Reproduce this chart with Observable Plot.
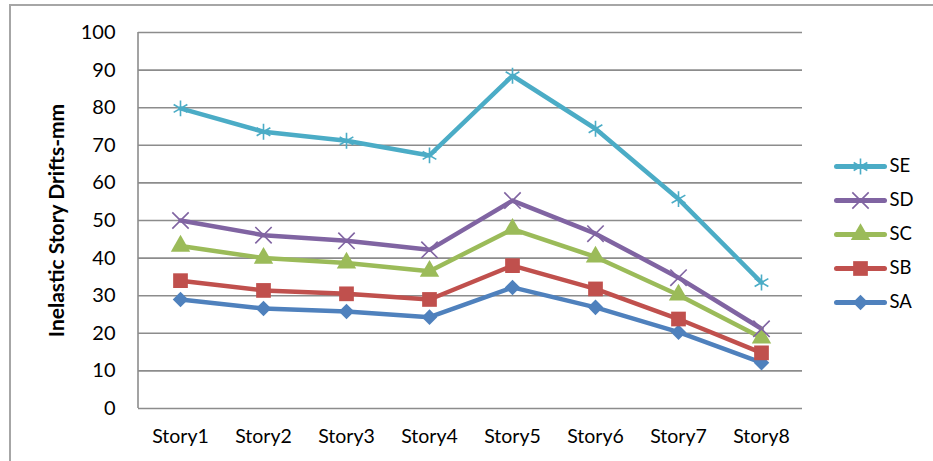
<!DOCTYPE html>
<html>
<head>
<meta charset="utf-8">
<script src="https://cdn.jsdelivr.net/npm/d3@7"></script>
<script src="https://cdn.jsdelivr.net/npm/@observablehq/plot@0.6"></script>
<style>
  html, body { margin: 0; padding: 0; background: #fff; }
  #wrap { position: relative; width: 933px; height: 461px; overflow: hidden; font-family: Lato, "Open Sans", sans-serif; }
  #chart, #legend { position: absolute; }
  #chart { left: 0; top: 0; }
  #legend { left: 820px; top: 120px; }
  #border { position: absolute; left: 9px; top: 4px; right: -4px; bottom: -4px;
            border-top: 2px solid #a6a6a6; border-left: 2px solid #a6a6a6; pointer-events: none; }
</style>
</head>
<body>
<div id="wrap">
  <div id="chart"></div>
  <div id="legend"></div>
  <div id="border"></div>
</div>
<script>
// Stories along the x axis
const stories = ["Story1", "Story2", "Story3", "Story4", "Story5", "Story6", "Story7", "Story8"];

// Inelastic story drifts (mm) for each structure
const SA = [29.0, 26.6, 25.8, 24.3, 32.2, 26.9, 20.3, 12.2];
const SB = [34.0, 31.4, 30.5, 29.0, 38.0, 31.8, 23.8, 14.8];
const SC = [43.2, 40.0, 38.7, 36.5, 47.7, 40.3, 30.2, 18.8];
const SD = [50.0, 46.1, 44.6, 42.2, 55.3, 46.5, 34.8, 21.2];
const SE = [79.8, 73.6, 71.2, 67.3, 88.5, 74.4, 55.7, 33.5];

const seriesNames = ["SA", "SB", "SC", "SD", "SE"];
const seriesValues = [SA, SB, SC, SD, SE];
const seriesColors = ["#4F81BD", "#C0504D", "#9BBB59", "#8064A2", "#4BACC6"];
const seriesSymbols = ["diamond2", "square", "triangle", "times", "asterisk"];

const yTicks = [0, 10, 20, 30, 40, 50, 60, 70, 80, 90, 100];

// Long-form table built from the arrays above
const rows = seriesNames.flatMap((name, i) =>
  stories.map((story, j) => ({ series: name, story, value: seriesValues[i][j] }))
);

const colorScale = { domain: seriesNames, range: seriesColors };
const symbolScale = { domain: seriesNames, range: seriesSymbols };
const font = "Lato, 'Open Sans', sans-serif";

// Marker style per series: filled shapes for SA–SC, stroked crosses for SD–SE
const markerStyle = {
  SA: { fill: true, r: 7.0 },
  SB: { fill: true, r: 8.3 },
  SC: { fill: true, r: 7.2 },
  SD: { fill: false, r: 7.5 },
  SE: { fill: false, r: 7.5 }
};

function markers(data, opts) {
  return seriesNames.map(name => {
    const s = markerStyle[name];
    const subset = data.filter(d => d.series === name);
    return s.fill
      ? Plot.dot(subset, { ...opts, symbol: "series", fill: "series", stroke: "none", r: s.r })
      : Plot.dot(subset, { ...opts, symbol: "series", stroke: "series", fill: "none", strokeWidth: 1.6, r: s.r });
  });
}

const chart = Plot.plot({
  width: 933,
  height: 461,
  marginLeft: 138,
  marginRight: 131,
  marginTop: 32,
  marginBottom: 53,
  style: { fontFamily: font, fontSize: "19px", color: "#000", background: "transparent" },
  x: { type: "point", domain: stories, padding: 0.5, label: null },
  y: { domain: [0, 100], label: null },
  color: colorScale,
  symbol: symbolScale,
  marks: [
    Plot.ruleY(yTicks, { stroke: "#8c8c8c", strokeWidth: 1.6 }),
    Plot.axisY({ ticks: yTicks, tickSize: 0, tickPadding: 23, label: null, fontSize: 20 }),
    Plot.axisX({ tickSize: 0, tickPadding: 21, label: null, fontSize: 19.5 }),
    Plot.text(["Inelastic Story Drifts-mm"], {
      frameAnchor: "left", textAnchor: "middle", dx: -81, rotate: -90,
      fontWeight: "bold", fontSize: 21, fill: "#000"
    }),
    Plot.line(rows, { x: "story", y: "value", z: "series", stroke: "series", strokeWidth: 4.5, strokeLinejoin: "round", strokeLinecap: "round" }),
    ...markers(rows, { x: "story", y: "value" })
  ]
});

document.getElementById("chart").appendChild(chart);

// The plot area's left edge, drawn just after the gridlines
const ys = chart.scale("y");
const firstGroup = chart.querySelector(":scope > g");
const edge = document.createElementNS("http://www.w3.org/2000/svg", "line");
d3.select(edge)
  .attr("x1", 138).attr("x2", 138)
  .attr("y1", ys.apply(100)).attr("y2", ys.apply(0))
  .attr("stroke", "#8c8c8c").attr("stroke-width", 1.6);
if (firstGroup) chart.insertBefore(edge, firstGroup.nextSibling);
else chart.appendChild(edge);

// Legend, top to bottom
const legendOrder = ["SE", "SD", "SC", "SB", "SA"];
const legendRows = legendOrder.map(s => ({ series: s }));

const legend = Plot.plot({
  width: 113,
  height: 220,
  margin: 0,
  style: { fontFamily: font, fontSize: "18px", color: "#000", background: "transparent" },
  x: { domain: [0, 1], range: [16, 64], axis: null },
  y: { type: "point", domain: legendOrder, range: [28, 200], axis: null },
  color: colorScale,
  symbol: symbolScale,
  marks: [
    Plot.link(legendRows, { x1: () => 0, x2: () => 1, y1: "series", y2: "series", stroke: "series", strokeWidth: 5, strokeLinecap: "round" }),
    ...markers(legendRows, { x: () => 0.5, y: "series" }),
    Plot.text(legendRows, { x: () => 1, y: "series", text: "series", dx: 5, textAnchor: "start", fontSize: 18.5, fill: "#000" })
  ]
});
document.getElementById("legend").appendChild(legend);
</script>
</body>
</html>
